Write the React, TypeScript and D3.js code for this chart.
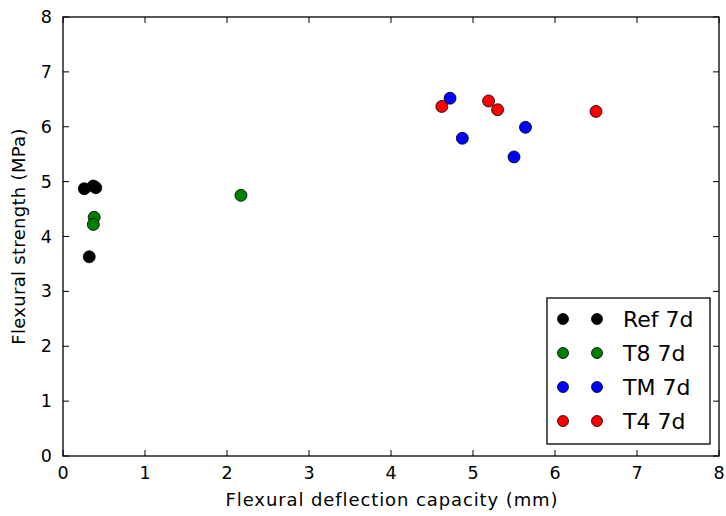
import React from "react";
import * as d3 from "d3";

const seriesNames = ["Ref 7d", "T8 7d", "TM 7d", "T4 7d"];
const seriesColors = ["#000000", "#008000", "#0000ff", "#ff0000"];
const refX = [0.26, 0.37, 0.40, 0.32];
const refY = [4.87, 4.92, 4.89, 3.63];
const t8X = [0.38, 0.37, 2.17];
const t8Y = [4.35, 4.22, 4.75];
const tmX = [4.72, 4.87, 5.64, 5.50];
const tmY = [6.52, 5.79, 5.99, 5.45];
const t4X = [4.62, 5.19, 5.30, 6.50];
const t4Y = [6.37, 6.47, 6.31, 6.28];
const xTicks = [0, 1, 2, 3, 4, 5, 6, 7, 8];
const yTicks = [0, 1, 2, 3, 4, 5, 6, 7, 8];

const W = 726, H = 516;
const L = 63, R = 719, T = 17, B = 456;

export default function App() {
  const x = d3.scaleLinear().domain([0, 8]).range([L, R]);
  const y = d3.scaleLinear().domain([0, 8]).range([B, T]);
  const series = [
    { xs: refX, ys: refY },
    { xs: t8X, ys: t8Y },
    { xs: tmX, ys: tmY },
    { xs: t4X, ys: t4Y },
  ];
  const font = "DejaVu Sans, sans-serif";
  const tl = 6;
  const legX = 547, legY = 298, legW = 163, legH = 146;
  const rowY = [319, 353, 387, 421];
  return (
    <svg width={W} height={H} style={{ position: "absolute", left: 0, top: 0, background: "#fff" }}>
      <rect x={0} y={0} width={W} height={H} fill="#fff" />
      {series.map((s, si) =>
        s.xs.map((xv, i) => (
          <circle key={`p${si}-${i}`} cx={x(xv)} cy={y(s.ys[i])} r={6}
            fill={seriesColors[si]} stroke="#000" strokeWidth={0.8} />
        ))
      )}
      {xTicks.map((t) => (
        <g key={`xt${t}`}>
          <line x1={x(t)} x2={x(t)} y1={B} y2={B - tl} stroke="#000" strokeWidth={1} />
          <line x1={x(t)} x2={x(t)} y1={T} y2={T + tl} stroke="#000" strokeWidth={1} />
          <text x={x(t)} y={479} textAnchor="middle" fontFamily={font} fontSize={17.5}>{t}</text>
        </g>
      ))}
      {yTicks.map((t) => (
        <g key={`yt${t}`}>
          <line x1={L} x2={L + tl} y1={y(t)} y2={y(t)} stroke="#000" strokeWidth={1} />
          <line x1={R} x2={R - tl} y1={y(t)} y2={y(t)} stroke="#000" strokeWidth={1} />
          <text x={52} y={y(t) + 6} textAnchor="end" fontFamily={font} fontSize={17.5}>{t}</text>
        </g>
      ))}
      <rect x={L} y={T} width={R - L} height={B - T} fill="none" stroke="#000" strokeWidth={1.3} />
      <text x={(L + R) / 2 + 1} y={506} textAnchor="middle" fontFamily={font} fontSize={18}
        letterSpacing={0.9}>
        Flexural deflection capacity (mm)
      </text>
      <text transform={`translate(25,${(T + B) / 2}) rotate(-90)`} textAnchor="middle"
        fontFamily={font} fontSize={18} letterSpacing={0.3}>Flexural strength (MPa)</text>
      <rect x={legX} y={legY} width={legW} height={legH} fill="#fff" stroke="#000" strokeWidth={1.3} />
      {seriesNames.map((n, i) => (
        <g key={`lg${i}`}>
          <circle cx={563} cy={rowY[i]} r={5.5} fill={seriesColors[i]} stroke="#000" strokeWidth={0.8} />
          <circle cx={597} cy={rowY[i]} r={5.5} fill={seriesColors[i]} stroke="#000" strokeWidth={0.8} />
          <text x={623} y={rowY[i] + 8} fontFamily={font} fontSize={22}>{n}</text>
        </g>
      ))}
    </svg>
  );
}
